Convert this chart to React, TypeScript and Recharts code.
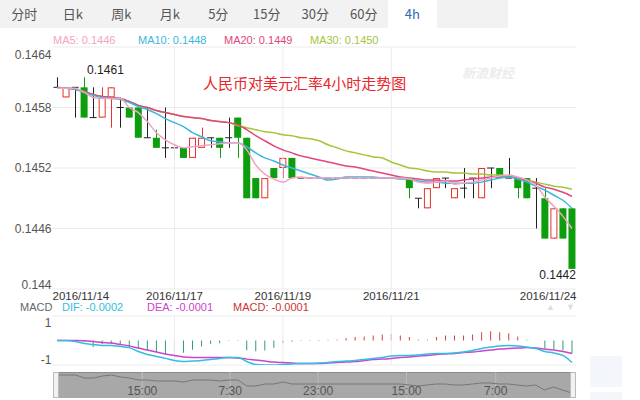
import React from "react";
import {
  ComposedChart,
  Bar,
  Line,
  XAxis,
  YAxis,
  CartesianGrid,
  ReferenceLine,
  ReferenceDot,
  Cell,
} from "recharts";

const FONT = '"Liberation Sans", "Noto Sans CJK SC", sans-serif';
const CJK = '"Noto Sans CJK SC", "Liberation Sans", sans-serif';
const RED = "#e5322d";
const GREEN = "#0c9e0c";
const DOJI = "#222";

// 4h candles, 2016/11/14 - 2016/11/24
const opens = [
  0.146, 0.1459, 0.146, 0.146, 0.1457, 0.1457, 0.1459, 0.1458, 0.1458, 0.1458,
  0.1455, 0.1455, 0.1454, 0.1454, 0.1454, 0.1453, 0.1454, 0.1455, 0.1455, 0.1455,
  0.1457, 0.1455, 0.1451, 0.1449, 0.1452, 0.1452, 0.1453, 0.1451, 0.1451, 0.1451,
  0.1451, 0.1451, 0.1451, 0.1451, 0.1451, 0.1451, 0.1451, 0.1451, 0.1451, 0.1451,
  0.1449, 0.1448, 0.145, 0.1451, 0.1449, 0.145, 0.1451, 0.1449, 0.1452, 0.1452,
  0.1451, 0.1451, 0.1451, 0.145, 0.1449, 0.1445, 0.1448, 0.1448,
];
const closes = [
  0.146, 0.146, 0.146, 0.1457, 0.1457, 0.1459, 0.146, 0.1458, 0.1457, 0.1455,
  0.1455, 0.1454, 0.1454, 0.1454, 0.1453, 0.1455, 0.1455, 0.1455, 0.1454, 0.1455,
  0.1455, 0.1449, 0.1449, 0.1451, 0.1451, 0.1453, 0.1451, 0.1451, 0.1451, 0.1451,
  0.1451, 0.1451, 0.1451, 0.1451, 0.1451, 0.1451, 0.1451, 0.1451, 0.1451, 0.145,
  0.1449, 0.145, 0.1451, 0.1451, 0.145, 0.145, 0.1451, 0.1452, 0.1452, 0.1451,
  0.1451, 0.145, 0.1449, 0.145, 0.1445, 0.1448, 0.1445, 0.1442,
];
const highs = [
  0.1461, 0.146, 0.146, 0.1461, 0.146, 0.146, 0.146, 0.1459, 0.1458, 0.1458,
  0.1458, 0.14558, 0.1458, 0.1454, 0.1454, 0.1455, 0.1456, 0.1455, 0.1455, 0.1457,
  0.1457, 0.1455, 0.1451, 0.1451, 0.1452, 0.1453, 0.1453, 0.1451, 0.1451, 0.1451,
  0.1451, 0.1451, 0.1451, 0.1451, 0.1451, 0.1451, 0.1451, 0.1451, 0.1451, 0.1451,
  0.1449, 0.145, 0.1451, 0.1451, 0.145, 0.1452, 0.1451, 0.1452, 0.1452, 0.1452,
  0.1453, 0.1451, 0.1451, 0.1451, 0.145, 0.1448, 0.1448, 0.1448,
];
const lows = [
  0.146, 0.1459, 0.1457, 0.1457, 0.1457, 0.1457, 0.1456, 0.1456, 0.1457, 0.1455,
  0.1455, 0.1454, 0.1453, 0.1453, 0.1453, 0.1453, 0.1454, 0.1454, 0.1453, 0.1454,
  0.1453, 0.1449, 0.1449, 0.1449, 0.1451, 0.1451, 0.1451, 0.1451, 0.1451, 0.1451,
  0.1451, 0.1451, 0.1451, 0.1451, 0.1451, 0.1451, 0.1451, 0.1451, 0.1451, 0.1449,
  0.1448, 0.1448, 0.145, 0.145, 0.1449, 0.1449, 0.1449, 0.1449, 0.145, 0.1451,
  0.1451, 0.1449, 0.1449, 0.1446, 0.1445, 0.1445, 0.1445, 0.1442,
];

const ma5 = [
  0.14599, 0.14599, 0.14599, 0.14595, 0.1459, 0.14589, 0.14589, 0.14589, 0.1458, 0.14575,
  0.14566, 0.14555, 0.14548, 0.14543, 0.1454, 0.14541, 0.14542, 0.14543, 0.14544, 0.14545,
  0.14545, 0.14538, 0.14523, 0.14514, 0.14509, 0.14506, 0.1451, 0.14511, 0.1451, 0.1451,
  0.1451, 0.1451, 0.1451, 0.1451, 0.1451, 0.1451, 0.1451, 0.1451, 0.1451, 0.14509,
  0.14506, 0.14505, 0.14506, 0.14507, 0.14504, 0.14505, 0.14506, 0.14508, 0.1451, 0.14512,
  0.14513, 0.14511, 0.14508, 0.14503, 0.14491, 0.14482, 0.14472, 0.1446,
];
const ma10 = [
  0.14599, 0.14599, 0.14598, 0.14595, 0.14592, 0.1459, 0.14589, 0.14588, 0.14585, 0.14581,
  0.14578, 0.14574, 0.14569, 0.14565, 0.14561, 0.14555, 0.14551, 0.14547, 0.14546, 0.14545,
  0.14545, 0.14541, 0.14535, 0.1453, 0.14527, 0.14523, 0.1452, 0.14517, 0.14514, 0.14511,
  0.14508, 0.14509, 0.14511, 0.14511, 0.14511, 0.14511, 0.1451, 0.1451, 0.14509, 0.14509,
  0.14507, 0.14506, 0.14506, 0.14505, 0.14505, 0.14505, 0.14505, 0.14506, 0.14508, 0.1451,
  0.14511, 0.14509, 0.14506, 0.14502, 0.14498, 0.14493, 0.14488, 0.1448,
];
const ma20 = [
  0.14599, 0.14599, 0.14598, 0.14596, 0.14593, 0.14591, 0.1459, 0.14589, 0.14586, 0.14582,
  0.1458, 0.14577, 0.14575, 0.14573, 0.14571, 0.1457, 0.14569, 0.14567, 0.14566, 0.14565,
  0.14563, 0.14558, 0.14552, 0.14547, 0.14542, 0.14538, 0.14535, 0.14532, 0.1453, 0.14528,
  0.14526, 0.14524, 0.14522, 0.14521, 0.14519, 0.14517, 0.14515, 0.14513, 0.14511, 0.1451,
  0.14509, 0.14508, 0.14508, 0.14507, 0.14507, 0.14508, 0.14509, 0.1451, 0.14511, 0.14511,
  0.14511, 0.1451, 0.14508, 0.14505, 0.14501, 0.14499, 0.14496, 0.14492,
];
const ma30 = [
  0.14599, 0.14599, 0.14598, 0.14596, 0.14593, 0.14591, 0.1459, 0.14589, 0.14586, 0.14582,
  0.1458, 0.14577, 0.14575, 0.14573, 0.14571, 0.1457, 0.14569, 0.14567, 0.14566, 0.14565,
  0.14562, 0.1456, 0.14558, 0.14556, 0.14555, 0.14553, 0.14552, 0.1455, 0.14549, 0.14547,
  0.14543, 0.1454, 0.14537, 0.14535, 0.14533, 0.14531, 0.1453, 0.14526, 0.14523, 0.1452,
  0.14519, 0.14517, 0.14516, 0.14516, 0.14515, 0.14515, 0.14514, 0.14514, 0.14513, 0.14513,
  0.14512, 0.1451, 0.14508, 0.14506, 0.14504, 0.14502, 0.14501, 0.14499,
];

// MACD panel, in the panel's own axis units (-1 .. 1)
const dif = [
  0, 0, -0.04, -0.12, -0.16, -0.2, -0.2, -0.24, -0.29, -0.45,
  -0.57, -0.65, -0.73, -0.82, -0.86, -0.84, -0.82, -0.78, -0.73, -0.69,
  -0.69, -0.86, -0.98, -1, -1, -0.98, -0.96, -0.94, -0.94, -0.92,
  -0.9, -0.86, -0.84, -0.82, -0.78, -0.73, -0.69, -0.63, -0.61, -0.61,
  -0.59, -0.55, -0.53, -0.53, -0.51, -0.47, -0.41, -0.33, -0.27, -0.22,
  -0.2, -0.22, -0.27, -0.33, -0.45, -0.51, -0.61, -0.9,
];
const dea = [
  0, 0, 0, -0.01, -0.04, -0.08, -0.1, -0.16, -0.22, -0.31,
  -0.39, -0.47, -0.55, -0.61, -0.67, -0.69, -0.69, -0.69, -0.69, -0.69,
  -0.71, -0.76, -0.8, -0.84, -0.88, -0.9, -0.92, -0.94, -0.94, -0.94,
  -0.92, -0.9, -0.88, -0.86, -0.82, -0.78, -0.76, -0.73, -0.69, -0.67,
  -0.63, -0.61, -0.57, -0.55, -0.53, -0.49, -0.47, -0.43, -0.39, -0.35,
  -0.33, -0.31, -0.29, -0.31, -0.35, -0.39, -0.45, -0.53,
];
const macd = [
  0, 0, -0.03, -0.05, -0.27, -0.14, -0.14, -0.16, -0.27, -0.33,
  -0.41, -0.47, -0.55, -0.55, -0.5, -0.38, -0.24, -0.13, -0.11, -0.02,
  -0.02, -0.4, -0.44, -0.41, -0.3, -0.1, -0.05, -0.02, -0.02, 0.02,
  0.02, 0.03, 0.1, 0.14, 0.16, 0.2, 0.24, 0.27, 0.2, 0.14,
  0.03, 0.03, 0.14, 0.2, 0.2, 0.2, 0.24, 0.34, 0.38, 0.34,
  0.3, 0.16, 0.03, 0, -0.33, -0.35, -0.41, -0.53,
];

const priceTicks = [0.144, 0.1446, 0.1452, 0.1458, 0.1464];
const macdTicks = [-1, 1];
const dateTickIdx = [0, 13, 25, 37, 57];
const dateTickLabels = ["2016/11/14", "2016/11/17", "2016/11/19", "2016/11/21", "2016/11/24"];
const gridIdx = [13, 25, 37];
const navTickPos = [9.9, 19.65, 29.4, 39.2, 49.1];
const navTickLabels = ["15:00", "7:30", "23:00", "15:00", "7:00"];
const tabs = ["分时", "日k", "周k", "月k", "5分", "15分", "30分", "60分", "4h"];

const candles = opens.map((o, i) => ({
  idx: i,
  open: o,
  high: highs[i],
  low: lows[i],
  close: closes[i],
  range: [lows[i], highs[i]],
  ma5: ma5[i],
  ma10: ma10[i],
  ma20: ma20[i],
  ma30: ma30[i],
  dif: dif[i],
  dea: dea[i],
  macd: macd[i],
}));
const navData = closes.map((c, i) => ({ pos: i + 0.5, close: c }));

const peak = Math.max(...highs);
const peakIdx = highs.lastIndexOf(peak);
const bottom = Math.min(...lows);
const bottomIdx = lows.indexOf(bottom);

const fmt = (v: number) => String(Number(v.toFixed(4)));

function Candle(props: any) {
  const { x, y, width, height, payload } = props;
  if (x == null || y == null || !payload) return null;
  const top = Math.min(y, y + height);
  const bot = Math.max(y, y + height);
  const span = payload.high - payload.low;
  const toPx = (v: number) => (span > 0 ? top + ((payload.high - v) / span) * (bot - top) : top);
  const cx = Math.round(x + width / 2) + 0.5;
  const oY = toPx(payload.open);
  const cY = toPx(payload.close);
  const up = payload.close > payload.open;
  const down = payload.close < payload.open;
  const color = up ? RED : down ? GREEN : DOJI;
  const bTop = Math.min(oY, cY);
  const bH = Math.abs(oY - cY);
  return (
    <g>
      {bot - top > 0 && <line x1={cx} x2={cx} y1={top} y2={bot} stroke={color} strokeWidth={1} />}
      {up && (
        <rect x={x + 0.5} y={bTop + 0.5} width={width - 1} height={Math.max(bH - 1, 0)} fill="#fff" stroke={color} strokeWidth={1} />
      )}
      {down && <rect x={x} y={bTop} width={width} height={bH} fill={color} />}
      {!up && !down && <line x1={x} x2={x + width} y1={oY} y2={oY} stroke={color} strokeWidth={1} />}
    </g>
  );
}

function PriceTick(props: any) {
  const { x, y, payload } = props;
  const v = payload.value;
  let dy = 4;
  if (v >= priceTicks[priceTicks.length - 1] - 1e-9) dy = 12;
  if (v <= priceTicks[0] + 1e-9) dy = 0;
  return (
    <text x={x} y={y} dy={dy} textAnchor="end" fill="#555" fontSize={12} fontFamily={FONT}>
      {fmt(v)}
    </text>
  );
}

function MacdTick(props: any) {
  const { x, y, payload } = props;
  const dy = payload.value > 0 ? 11 : -1;
  return (
    <text x={x} y={y} dy={dy} textAnchor="end" fill="#555" fontSize={12} fontFamily={FONT}>
      {payload.value}
    </text>
  );
}

function DateTick(props: any) {
  const { x, y, payload } = props;
  const i = dateTickIdx.indexOf(payload.value);
  if (i < 0) return null;
  const last = dateTickIdx.length - 1;
  const anchor = i === 0 ? "start" : i === last ? "end" : "middle";
  const dx = i === 0 ? -4.5 : i === last ? 4.5 : 0;
  return (
    <text x={x + dx} y={y} dy={3} textAnchor={anchor} fill="#333" fontSize={11.5} fontFamily={FONT}>
      {dateTickLabels[i]}
    </text>
  );
}

const abs = (left: number, top: number, extra: React.CSSProperties = {}): React.CSSProperties => ({
  position: "absolute",
  left,
  top,
  whiteSpace: "nowrap",
  ...extra,
});

export default function App() {
  const lineProps = { type: "monotone" as const, dot: false, strokeWidth: 1.5, isAnimationActive: false, activeDot: false };
  return (
    <div style={{ position: "absolute", left: 0, top: 0, width: 640, height: 400, background: "#fff", overflow: "hidden", fontFamily: FONT }}>
      {/* tab bar */}
      <div style={abs(0, 0, { width: 508, height: 28, background: "#f2f2f2" })} />
      {tabs.map((t, i) => (
        <div
          key={t}
          style={abs(i * 48.5, 0, {
            width: 48.5,
            height: 28,
            lineHeight: "28px",
            textAlign: "center",
            fontSize: 13,
            fontFamily: CJK,
            color: i === tabs.length - 1 ? "#2e6ab0" : "#555",
            background: i === tabs.length - 1 ? "#fff" : "transparent",
          })}
        >
          {t}
        </div>
      ))}

      {/* MA legend */}
      <div style={abs(53, 33, { fontSize: 11, lineHeight: "14px", color: "#f4a3c4" })}>MA5: 0.1446</div>
      <div style={abs(138, 33, { fontSize: 11, lineHeight: "14px", color: "#3bb7dc" })}>MA10: 0.1448</div>
      <div style={abs(224, 33, { fontSize: 11, lineHeight: "14px", color: "#e2467a" })}>MA20: 0.1449</div>
      <div style={abs(310, 33, { fontSize: 11, lineHeight: "14px", color: "#a4c639" })}>MA30: 0.1450</div>

      {/* watermark */}
      <div style={abs(462, 63, { fontSize: 13, fontFamily: CJK, fontStyle: "italic", fontWeight: 700, color: "#ececec" })}>新浪财经</div>

      {/* price chart */}
      <div style={abs(0, 30)}>
        <ComposedChart width={640} height={280} data={candles} margin={{ top: 17, right: 63.5, bottom: 0, left: 0 }}>
          <CartesianGrid vertical={false} stroke="#ebebeb" />
          <XAxis
            dataKey="idx"
            ticks={dateTickIdx}
            interval={0}
            tick={DateTick}
            axisLine={false}
            tickLine={false}
            tickSize={0}
            tickMargin={8}
            height={21}
          />
          <YAxis
            domain={[priceTicks[0], priceTicks[priceTicks.length - 1]]}
            ticks={priceTicks}
            interval={0}
            tick={PriceTick}
            axisLine={false}
            tickLine={false}
            tickSize={0}
            tickMargin={1}
            width={52.5}
            allowDataOverflow
          />
          {gridIdx.map((g) => (
            <ReferenceLine key={g} x={g} stroke="#ebebeb" />
          ))}
          <Bar dataKey="range" shape={Candle} barSize={7} isAnimationActive={false} />
          <Line dataKey="ma30" stroke="#a4c639" {...lineProps} />
          <Line dataKey="ma20" stroke="#e2467a" {...lineProps} />
          <Line dataKey="ma10" stroke="#3bb7dc" {...lineProps} />
          <Line dataKey="ma5" stroke="#f4a3c4" {...lineProps} />
          <ReferenceDot
            x={peakIdx}
            y={peak}
            r={0}
            shape={(p: any) => (
              <text x={p.cx + 3} y={p.cy - 3} fill="#222" fontSize={12} fontFamily={FONT}>
                {fmt(peak)}
              </text>
            )}
          />
          <ReferenceDot
            x={bottomIdx}
            y={bottom}
            r={0}
            shape={(p: any) => (
              <text x={p.cx + 4} y={p.cy + 10} textAnchor="end" fill="#222" fontSize={12} fontFamily={FONT}>
                {fmt(bottom)}
              </text>
            )}
          />
        </ComposedChart>
      </div>

      {/* title */}
      <div style={abs(203, 73, { fontSize: 15, lineHeight: "20px", fontFamily: CJK, color: "#e8262b" })}>
        人民币对美元汇率4小时走势图
      </div>

      {/* MACD legend */}
      <div style={abs(20, 301, { fontSize: 11, lineHeight: "12px", color: "#666" })}>MACD</div>
      <div style={abs(62, 301, { fontSize: 11, lineHeight: "12px", color: "#33bde0" })}>DIF: -0.0002</div>
      <div style={abs(147, 301, { fontSize: 11, lineHeight: "12px", color: "#cc44cc" })}>DEA: -0.0001</div>
      <div style={abs(233, 301, { fontSize: 11, lineHeight: "12px", color: "#cc3333" })}>MACD: -0.0001</div>
      <div style={abs(546, 301, { fontSize: 9, lineHeight: "12px", color: "#dcdcdc" })}>▲</div>
      <div style={abs(566, 301, { fontSize: 9, lineHeight: "12px", color: "#dcdcdc" })}>▼</div>

      {/* MACD chart */}
      <div style={abs(0, 310)}>
        <ComposedChart width={640} height={60} data={candles} margin={{ top: 6, right: 63.5, bottom: 5, left: 0 }}>
          <CartesianGrid vertical={false} stroke="#ebebeb" />
          <XAxis dataKey="idx" hide />
          <YAxis
            domain={[macdTicks[0], macdTicks[1]]}
            ticks={macdTicks}
            interval={0}
            tick={MacdTick}
            axisLine={false}
            tickLine={false}
            tickSize={0}
            tickMargin={1}
            width={52.5}
            allowDataOverflow
          />
          {gridIdx.map((g) => (
            <ReferenceLine key={g} x={g} stroke="#ebebeb" />
          ))}
          <Bar dataKey="macd" barSize={1} isAnimationActive={false}>
            {candles.map((c) => (
              <Cell key={c.idx} fill={c.macd >= 0 ? "#d04040" : "#2e9c77"} />
            ))}
          </Bar>
          <Line dataKey="dea" stroke="#cc44cc" {...lineProps} />
          <Line dataKey="dif" stroke="#33bde0" {...lineProps} />
        </ComposedChart>
      </div>

      {/* navigator */}
      <div style={abs(53, 372, { width: 523, height: 26, background: "#a8a8a8", boxSizing: "border-box", borderTop: "1px solid #8c8c8c" })} />
      <div style={abs(53, 372)}>
        <ComposedChart width={523} height={26} data={navData} margin={{ top: 0, right: 0, bottom: 0, left: 0 }}>
          <XAxis type="number" dataKey="pos" domain={[0, closes.length]} hide />
          <YAxis domain={[0.1437, 0.1463]} hide />
          {navTickPos.map((p, i) => (
            <ReferenceLine
              key={i}
              x={p}
              stroke="#bcbcbc"
              label={{ value: navTickLabels[i], position: "insideBottom", offset: 3, fill: "#555", fontSize: 12, fontFamily: FONT }}
            />
          ))}
          <Line dataKey="close" type="linear" stroke="#777" strokeWidth={1} dot={false} isAnimationActive={false} />
        </ComposedChart>
      </div>
      <div style={abs(53, 372, { width: 6, height: 26, background: "#f2f2f2", boxSizing: "border-box", border: "1px solid #bbb" })} />
      <div style={abs(570, 372, { width: 6, height: 26, background: "#f2f2f2", boxSizing: "border-box", border: "1px solid #bbb" })} />

      {/* faint side blocks */}
      <div style={abs(590, 356, { width: 32, height: 31, background: "#f3f6fb" })} />
      <div style={abs(590, 392, { width: 32, height: 8, background: "#f3f6fb" })} />
    </div>
  );
}
